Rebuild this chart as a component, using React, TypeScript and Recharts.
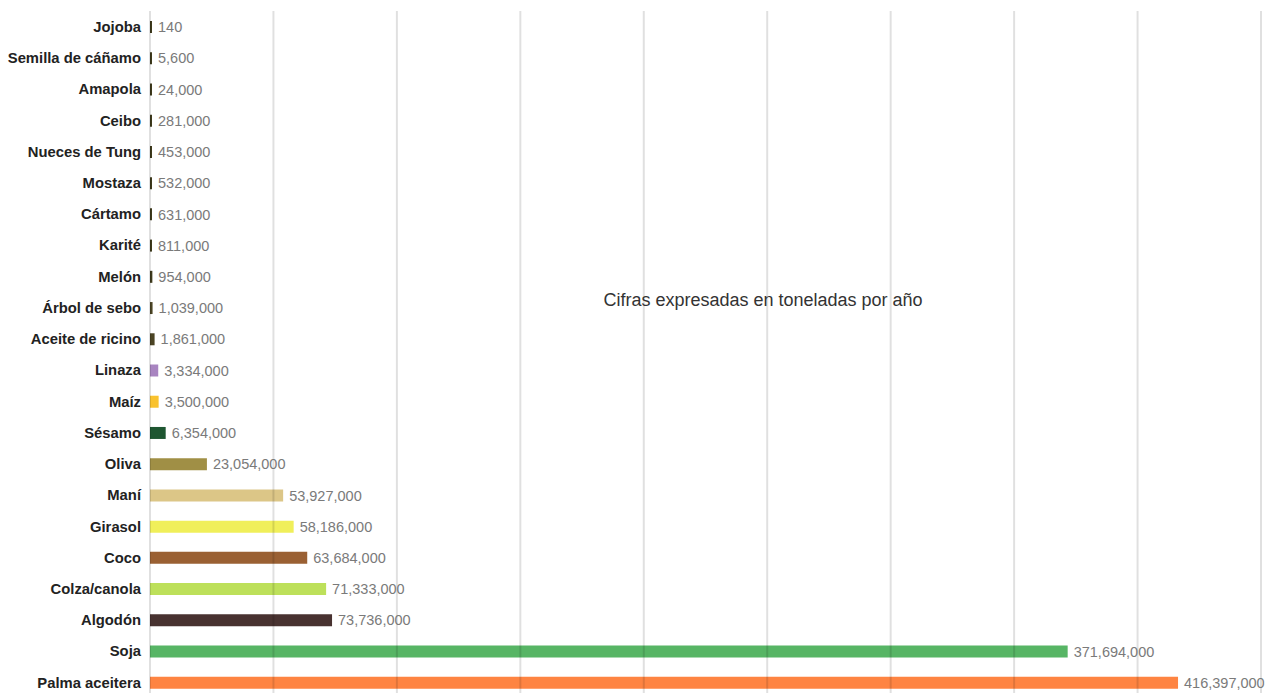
import * as React from "react";
import { BarChart, Bar, XAxis, YAxis, Cell, LabelList, ReferenceLine } from "recharts";

const cultivos = [
  "Jojoba",
  "Semilla de cáñamo",
  "Amapola",
  "Ceibo",
  "Nueces de Tung",
  "Mostaza",
  "Cártamo",
  "Karité",
  "Melón",
  "Árbol de sebo",
  "Aceite de ricino",
  "Linaza",
  "Maíz",
  "Sésamo",
  "Oliva",
  "Maní",
  "Girasol",
  "Coco",
  "Colza/canola",
  "Algodón",
  "Soja",
  "Palma aceitera",
];

const toneladas = [
  140, 5600, 24000, 281000, 453000, 532000, 631000, 811000, 954000, 1039000,
  1861000, 3334000, 3500000, 6354000, 23054000, 53927000, 58186000, 63684000,
  71333000, 73736000, 371694000, 416397000,
];

const colores = [
  "#3e3a1c", "#3e3a1c", "#3e3a1c", "#3e3a1c", "#3e3a1c", "#3e3a1c",
  "#3e3a1c", "#3e3a1c", "#3e3a1c", "#4b4424", "#4b4424",
  "#a884c0", "#f9c22e", "#1e5631", "#a08f45", "#dcc687", "#f0ef5a",
  "#9a6033", "#bde05a", "#483230", "#57b565", "#fe8442",
];

const gridTicks = [0, 50e6, 100e6, 150e6, 200e6, 250e6, 300e6, 350e6, 400e6, 450e6];

const data = cultivos.map((c, i) => ({ cultivo: c, valor: toneladas[i] }));

const fmt = (v) => Number(v).toLocaleString("en-US");

export default function App() {
  return (
    <div style={{ position: "absolute", left: 0, top: 0, width: 1266, height: 700, fontFamily: "'Liberation Sans', Arial, sans-serif" }}>
      <BarChart
        width={1266}
        height={700}
        data={data}
        layout="vertical"
        margin={{ top: 11, right: 5, bottom: 2, left: 0 }}
      >
        <XAxis type="number" domain={[0, 450e6]} ticks={gridTicks} hide />
        <YAxis
          type="category"
          dataKey="cultivo"
          width={150}
          axisLine={false}
          tickLine={false}
          tickSize={0}
          tickMargin={9}
          interval={0}
          tick={{ fill: "#222", fontSize: 14.8, fontWeight: "bold" }}
        />
        <Bar dataKey="valor" barSize={12} minPointSize={2} isAnimationActive={false}>
          {data.map((d, i) => (
            <Cell key={i} fill={colores[i]} />
          ))}
          <LabelList
            dataKey="valor"
            position="right"
            offset={6}
            formatter={fmt}
            fill="#7a7a7a"
            fontSize={14.5}
          />
        </Bar>
        {gridTicks.map((t) => (
          <ReferenceLine key={t} x={t} stroke="rgba(0,0,0,0.12)" strokeWidth={2} />
        ))}
      </BarChart>
      <div
        style={{
          position: "absolute",
          left: 763,
          top: 290,
          transform: "translateX(-50%)",
          fontSize: 18,
          color: "#333",
          whiteSpace: "nowrap",
        }}
      >
        Cifras expresadas en toneladas por año
      </div>
    </div>
  );
}
